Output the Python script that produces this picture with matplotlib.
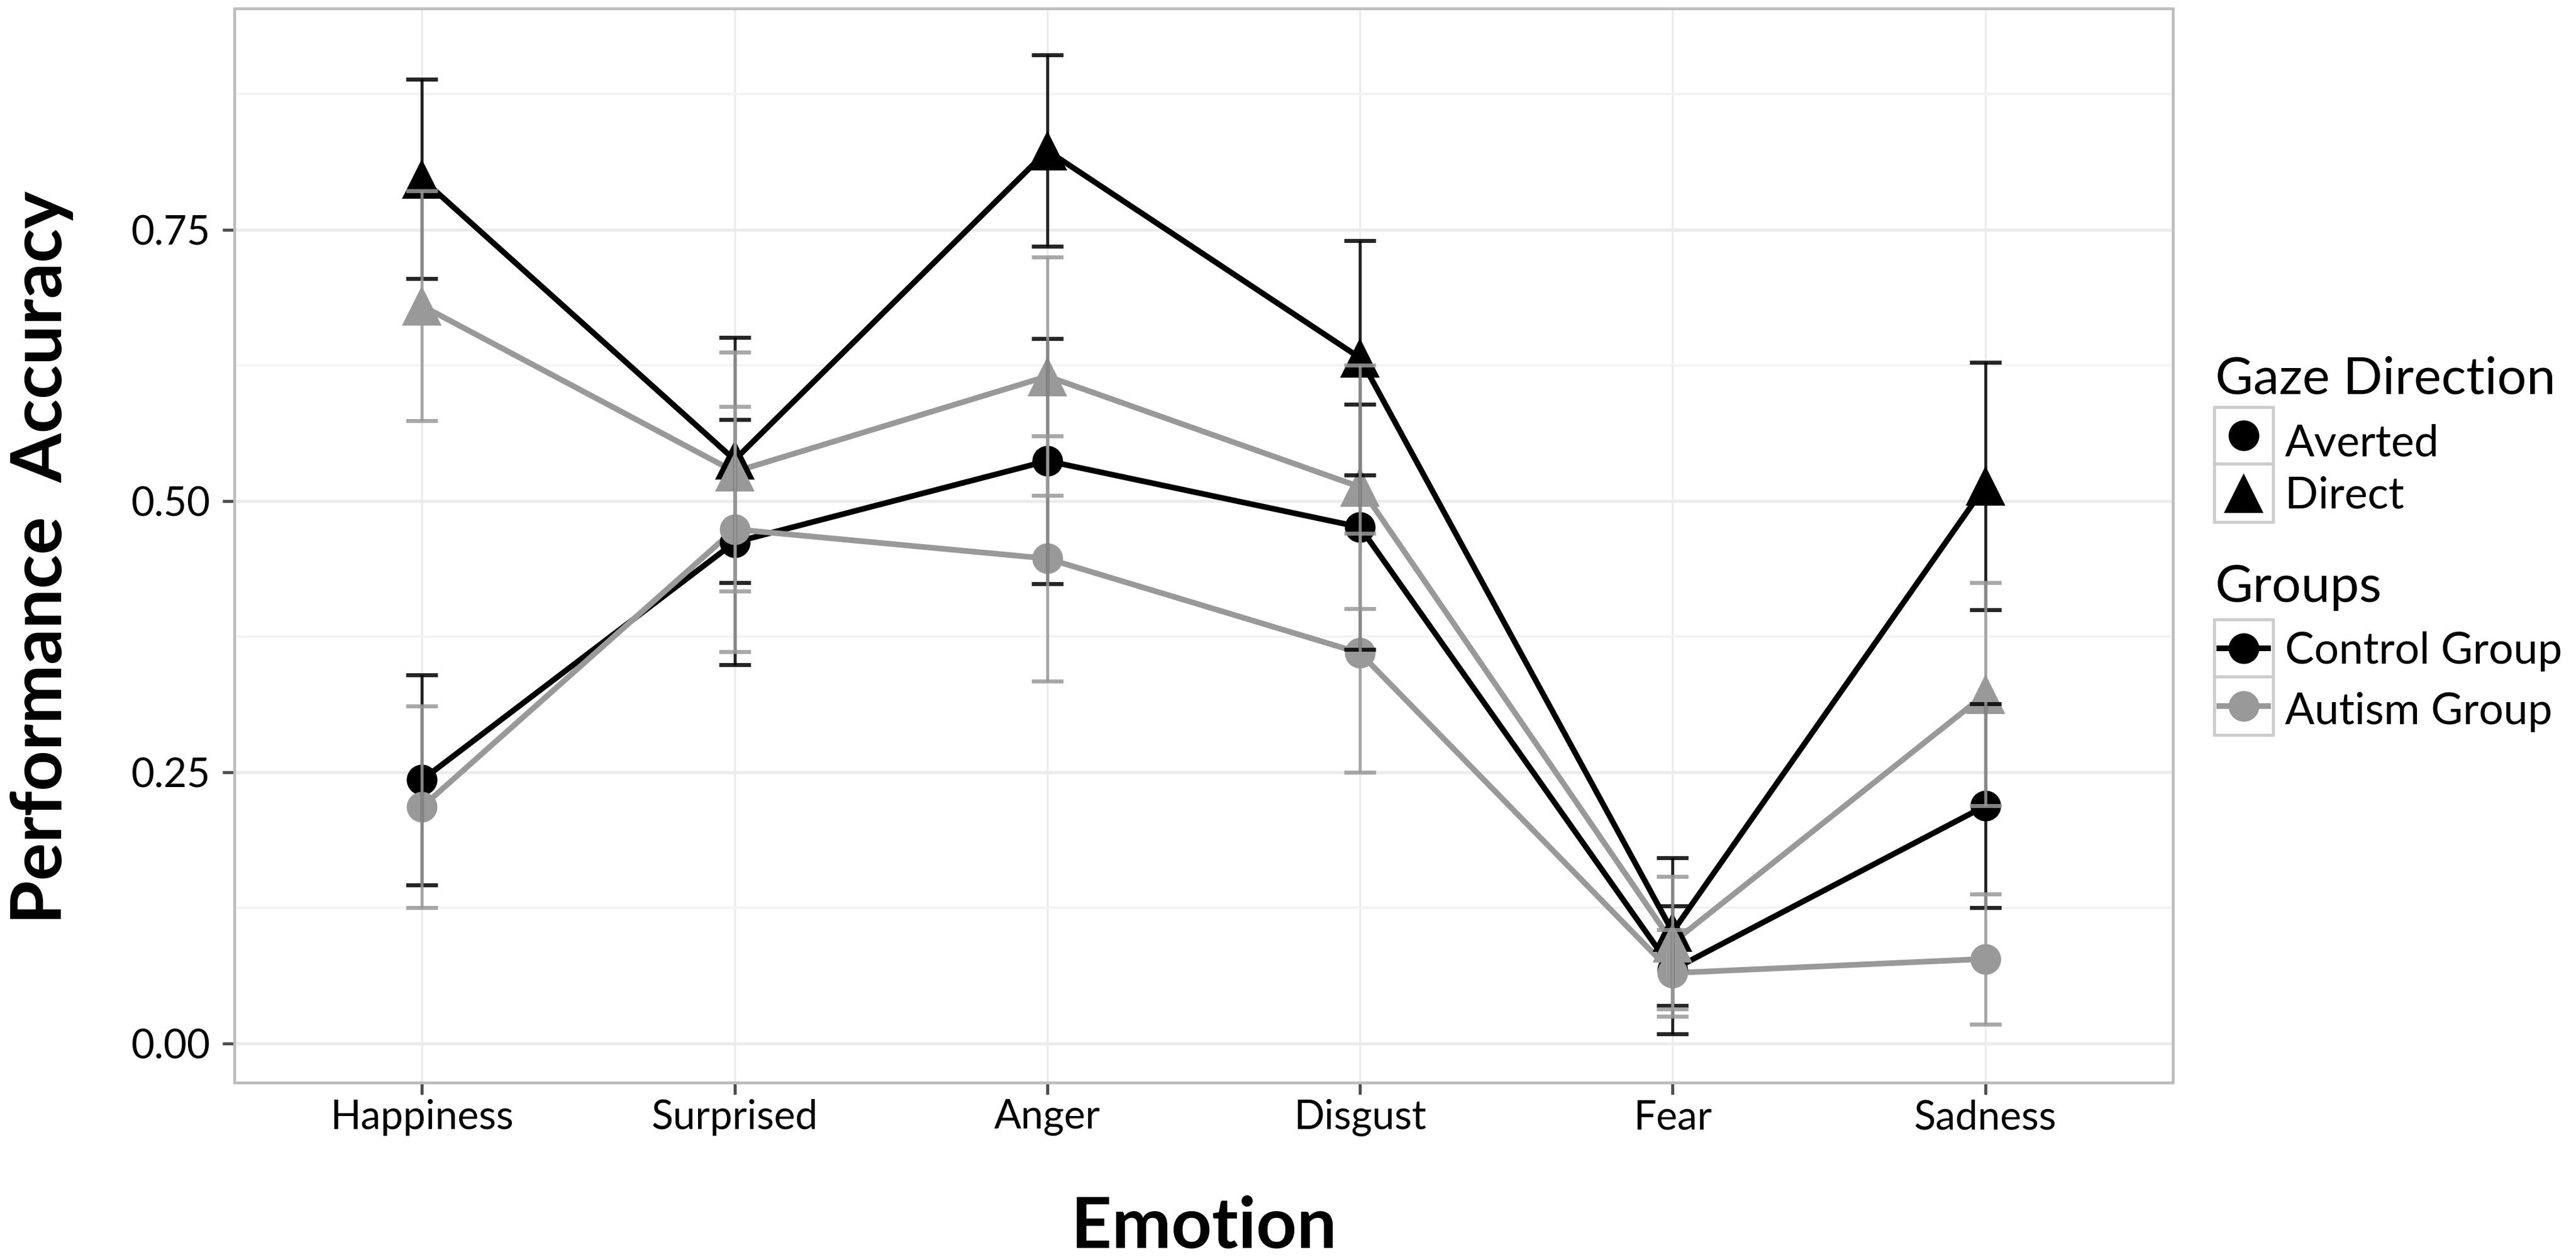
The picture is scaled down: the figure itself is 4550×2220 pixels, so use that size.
import numpy as np
import matplotlib
matplotlib.use('Agg')
import matplotlib.pyplot as plt
from matplotlib.lines import Line2D
from matplotlib.patches import Rectangle

plt.rcParams['font.family'] = ['Lato', 'DejaVu Sans']

# values
emotions = ['Happiness', 'Surprised', 'Anger', 'Disgust', 'Fear', 'Sadness']

control_direct = [0.797, 0.538, 0.823, 0.632, 0.103, 0.514]
control_direct_err = [0.092, 0.113, 0.088, 0.108, 0.068, 0.114]
autism_direct = [0.680, 0.527, 0.615, 0.513, 0.093, 0.322]
autism_direct_err = [0.106, 0.110, 0.110, 0.112, 0.061, 0.103]
control_averted = [0.243, 0.462, 0.537, 0.476, 0.068, 0.219]
control_averted_err = [0.097, 0.113, 0.113, 0.113, 0.059, 0.094]
autism_averted = [0.218, 0.474, 0.447, 0.360, 0.065, 0.078]
autism_averted_err = [0.093, 0.113, 0.113, 0.110, 0.040, 0.060]

y_ticks = [0.0, 0.25, 0.5, 0.75]
y_tick_labels = ['0.00', '0.25', '0.50', '0.75']
y_minor = [0.125, 0.375, 0.625, 0.875]

gaze_labels = ['Averted', 'Direct']
group_labels = ['Control Group', 'Autism Group']

BLACK = '#000000'
GREY = '#999999'
series = [
    (control_direct, control_direct_err, BLACK, '^'),
    (control_averted, control_averted_err, BLACK, 'o'),
    (autism_direct, autism_direct_err, GREY, '^'),
    (autism_averted, autism_averted_err, GREY, 'o'),
]

W, H = 4550, 2220
fig = plt.figure(figsize=(W / 300, H / 300), dpi=300)
ax = fig.add_axes([414 / W, 1 - 1912 / H, (3838 - 414) / W, (1912 - 15) / H])

x = np.arange(1, len(emotions) + 1)

for vals, err, col, mk in series:
    ax.plot(x, vals, color=col, lw=2.4, zorder=2, solid_joinstyle='miter')
    ms = 17 if mk == '^' else 13
    ax.plot(x, vals, ls='none', marker=mk, ms=ms, color=col,
            markeredgewidth=0, zorder=3)
for vals, err, col, mk in series:
    ax.errorbar(x, vals, yerr=err, fmt='none', ecolor=col, elinewidth=1.3,
                capsize=6.8, capthick=1.7, alpha=0.85, zorder=4)

ax.set_xlim(0.4, 6.6)
ax.set_ylim(-0.036, 0.954)
ax.set_xticks(x)
ax.set_xticklabels(emotions)
ax.set_yticks(y_ticks)
ax.set_yticklabels(y_tick_labels)
ax.set_yticks(y_minor, minor=True)

ax.set_axisbelow(True)
ax.grid(axis='y', which='major', color='#ebebeb', lw=1.3)
ax.grid(axis='y', which='minor', color='#f3f3f3', lw=1.0)
ax.grid(axis='x', which='major', color='#ebebeb', lw=0.8)

for s in ax.spines.values():
    s.set_color('#bdbdbd')
    s.set_linewidth(1.2)

ax.tick_params(axis='both', which='major', length=5, width=1.3,
               color='#4d4d4d', labelsize=17, labelcolor='black')
ax.tick_params(axis='x', pad=2)
ax.tick_params(axis='y', pad=5)
ax.tick_params(axis='y', which='minor', length=0)

fig.text(2126 / W, 1 - 2168 / H, 'Emotion', fontsize=30, fontweight='bold',
         ha='center', va='center')
fig.text(73 / W, 1 - 985 / H, 'Performance  Accuracy', fontsize=30,
         fontweight='bold', rotation=90, ha='center', va='center')


# legend drawn by hand so the keys get their grey boxes
def fx(px):
    return px / W


def fy(py):
    return 1 - py / H


def key_box(top, bottom):
    fig.add_artist(Rectangle((fx(3911), fy(bottom)), fx(4015) - fx(3911),
                             fy(top) - fy(bottom), transform=fig.transFigure,
                             facecolor='white', edgecolor='#cccccc', lw=1.3))


cx = (3911 + 4015) / 2
fig.text(fx(3913), fy(695), 'Gaze Direction', fontsize=22, va='baseline')
gaze_markers = ['o', '^']
gaze_boxes = [(719, 819), (819, 922)]
gaze_base = [805, 898]
for lab, mk, (t, b), base in zip(gaze_labels, gaze_markers, gaze_boxes, gaze_base):
    key_box(t, b)
    fig.add_artist(Line2D([fx(cx)], [fy((t + b) / 2)], marker=mk, ls='none',
                          ms=17 if mk == '^' else 13, color=BLACK,
                          markeredgewidth=0, transform=fig.transFigure))
    fig.text(fx(4036), fy(base), lab, fontsize=18.5, va='baseline')

fig.text(fx(3913), fy(1063), 'Groups', fontsize=22, va='baseline')
group_cols = [BLACK, GREY]
group_boxes = [(1094, 1195), (1195, 1298)]
group_base = [1172, 1279]
for lab, col, (t, b), base in zip(group_labels, group_cols, group_boxes, group_base):
    key_box(t, b)
    yc = fy((t + b) / 2)
    fig.add_artist(Line2D([fx(3920), fx(4006)], [yc, yc], color=col, lw=2.4,
                          transform=fig.transFigure))
    fig.add_artist(Line2D([fx(cx)], [yc], marker='o', ls='none', ms=13,
                          color=col, markeredgewidth=0,
                          transform=fig.transFigure))
    fig.text(fx(4036), fy(base), lab, fontsize=18.5, va='baseline')

fig.savefig('out.png', dpi=300, facecolor='white')
